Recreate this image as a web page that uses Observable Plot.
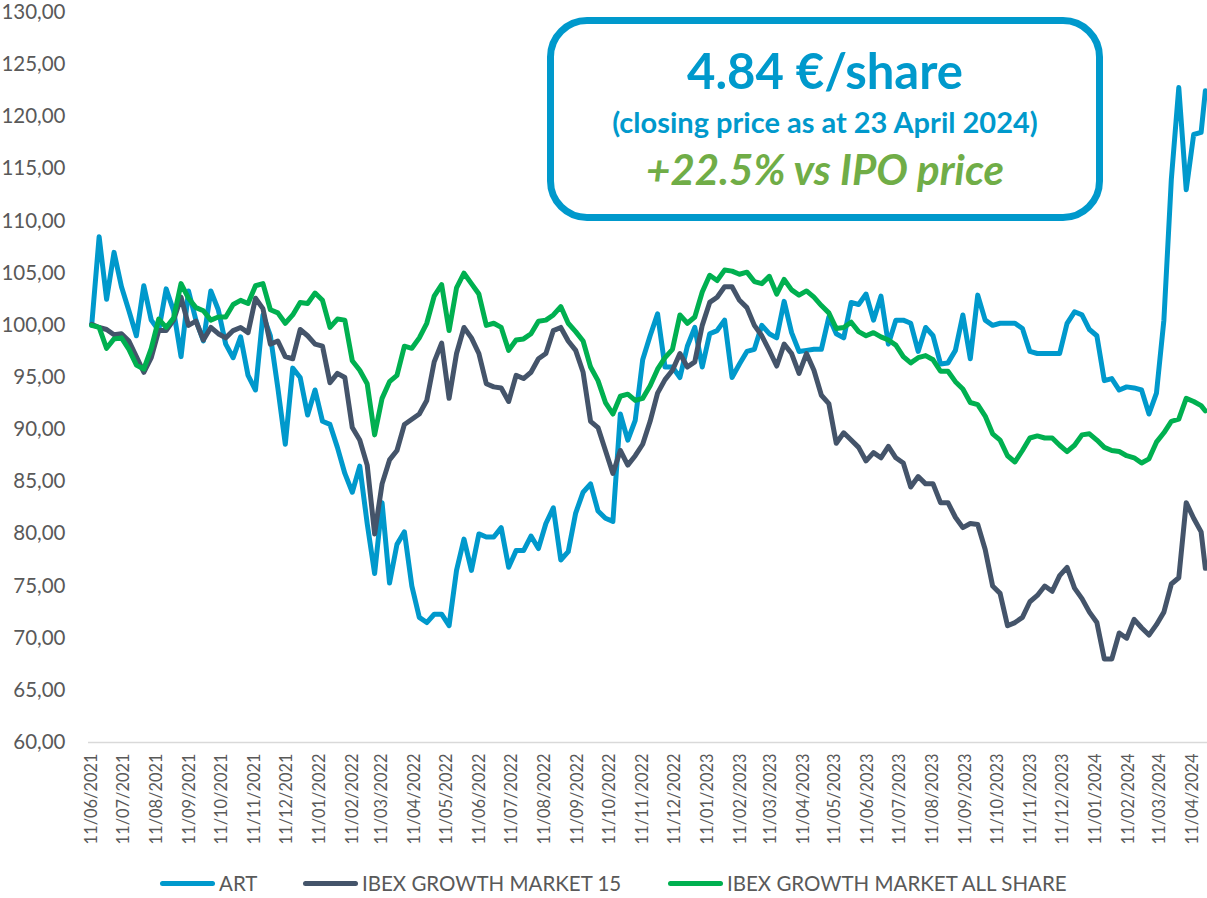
<!DOCTYPE html>
<html>
<head>
<meta charset="utf-8">
<script src="https://cdn.jsdelivr.net/npm/d3@7"></script>
<script src="https://cdn.jsdelivr.net/npm/@observablehq/plot@0.6"></script>
<style>
  html, body { margin: 0; padding: 0; background: #fff; }
  #wrap { position: relative; width: 1207px; height: 898px; font-family: Lato, "Open Sans", sans-serif; overflow: hidden; }
  #box { position: absolute; left: 547px; top: 17px; width: 556px; height: 204px; box-sizing: border-box;
         border: 7px solid #0099cc; border-radius: 40px; background: #fff; }
  .bt { position: absolute; left: 547px; width: 556px; text-align: center; font-weight: 700; white-space: nowrap; }
  #t1 { top: 46px; font-size: 49px; line-height: 49px; color: #0099cc; }
  #t2 { top: 107px; font-size: 29px; line-height: 29px; color: #0099cc; }
  #t3 { top: 148px; font-size: 42px; line-height: 42px; color: #70ad47; font-style: italic; }
  .lg { position: absolute; top: 868px; height: 30px; display: flex; align-items: center; font-size: 20.5px; color: #595959; white-space: nowrap; }
  .lg span.sw { display: inline-block; width: 55px; height: 5px; border-radius: 3px; margin-right: 4px; }
</style>
</head>
<body>
<div id="wrap">
  <div id="chart"></div>
  <div id="box"></div>
  <div class="bt" id="t1">4.84 €/share</div>
  <div class="bt" id="t2">(closing price as at 23 April 2024)</div>
  <div class="bt" id="t3">+22.5% vs IPO price</div>
  <div id="legend"></div>
</div>
<script>
// ---- data (weekly samples, starting 11/06/2021, last point 23/04/2024) ----
const seriesNames = ["ART", "IBEX GROWTH MARKET 15", "IBEX GROWTH MARKET ALL SHARE"];
const seriesColors = ["#0099cc", "#44546a", "#00b050"];
const firstDate = "2021-06-11";
const lastDate = "2024-04-23";

const artValues = [
  100.0, 108.5, 102.5, 107.0, 103.7, 101.4, 99.0, 103.8, 100.5, 99.5,
  103.5, 101.4, 97.0, 103.3, 100.5, 98.5, 103.3, 101.5, 98.2, 96.9,
  98.9, 95.2, 93.8, 101.0, 99.0, 94.0, 88.6, 95.9, 95.0, 91.4,
  93.8, 90.8, 90.5, 88.3, 85.8, 84.0, 86.5, 81.0, 76.2, 83.0,
  75.3, 79.0, 80.2, 75.0, 72.0, 71.5, 72.3, 72.3, 71.2, 76.5,
  79.5, 76.5, 80.0, 79.7, 79.7, 80.6, 76.8, 78.4, 78.4, 79.8,
  78.6, 81.0, 82.5, 77.5, 78.3, 82.0, 84.0, 84.8, 82.2, 81.5,
  81.2, 91.5, 89.0, 90.9, 96.7, 99.0, 101.1, 96.0, 96.0, 95.0,
  98.0, 99.8, 96.0, 99.2, 99.5, 100.5, 95.0, 96.3, 97.5, 97.7,
  100.0, 99.2, 98.8, 102.3, 99.3, 97.5, 97.6, 97.7, 97.7, 100.8,
  99.2, 98.8, 102.2, 102.0, 103.0, 100.5, 102.8, 98.2, 100.5, 100.5,
  100.2, 97.5, 99.8, 99.0, 96.3, 96.4, 97.6, 101.0, 96.8, 102.9,
  100.5, 100.0, 100.2, 100.2, 100.2, 99.7, 97.5, 97.3, 97.3, 97.3,
  97.3, 100.2, 101.3, 101.0, 99.6, 99.0, 94.7, 94.9, 93.8, 94.1,
  94.0, 93.8, 91.5, 93.5, 100.5, 114.0, 122.8, 113.0, 118.3, 118.5,
  122.5
];
const ibex15Values = [
  100.1, 99.8, 99.6, 99.1, 99.2, 98.5, 97.0, 95.5, 96.9, 99.5,
  99.5, 100.5, 102.7, 100.0, 100.4, 98.6, 99.8, 99.2, 98.8, 99.5,
  99.8, 99.3, 102.6, 101.6, 98.2, 98.5, 97.0, 96.8, 99.6, 99.0,
  98.2, 98.0, 94.5, 95.4, 95.0, 90.2, 89.0, 86.6, 80.0, 84.8,
  87.1, 88.0, 90.5, 91.0, 91.5, 92.8, 96.5, 98.3, 93.0, 97.3,
  99.8, 98.8, 97.3, 94.4, 94.1, 94.0, 92.7, 95.2, 94.9, 95.5,
  96.8, 97.3, 99.5, 99.8, 98.5, 97.6, 95.5, 90.8, 90.2, 88.0,
  85.8, 88.0, 86.6, 87.5, 88.6, 90.8, 93.5, 94.8, 95.7, 97.3,
  96.0, 96.5, 100.0, 102.2, 102.7, 103.7, 103.7, 102.4, 101.7, 100.0,
  99.0, 97.6, 96.1, 98.2, 97.3, 95.4, 97.3, 95.7, 93.3, 92.5,
  88.7, 89.7, 89.0, 88.3, 87.0, 87.8, 87.3, 88.4, 87.3, 86.8,
  84.5, 85.5, 84.8, 84.8, 83.0, 83.0, 81.6, 80.6, 81.0, 80.9,
  78.5, 75.0, 74.3, 71.2, 71.5, 72.0, 73.5, 74.1, 75.0, 74.5,
  76.0, 76.8, 74.8, 73.8, 72.5, 71.5, 68.0, 68.0, 70.5, 70.0,
  71.8, 71.0, 70.3, 71.3, 72.5, 75.2, 75.8, 83.0, 81.5, 80.2,
  76.7
];
const allShareValues = [
  100.0, 99.8, 97.8, 98.7, 98.8, 97.7, 96.2, 95.8, 97.8, 100.6,
  99.8, 100.7, 104.0, 102.6, 101.7, 101.4, 100.5, 100.8, 100.8, 102.0,
  102.4, 102.1, 103.8, 104.0, 101.5, 101.2, 100.2, 101.0, 102.2, 102.1,
  103.1, 102.4, 99.8, 100.6, 100.5, 96.6, 95.7, 94.4, 89.5, 93.0,
  94.6, 95.2, 98.0, 97.8, 98.8, 100.2, 102.8, 103.9, 99.5, 103.6,
  105.0, 104.0, 103.0, 100.0, 100.2, 99.8, 97.6, 98.6, 98.7, 99.2,
  100.4, 100.5, 101.0, 101.8, 100.2, 99.4, 98.5, 96.0, 94.7, 92.6,
  91.5, 93.2, 93.4, 92.8, 93.0, 94.2, 95.8, 96.9, 97.7, 101.0,
  100.2, 100.8, 103.2, 104.8, 104.3, 105.3, 105.2, 104.9, 105.1, 104.2,
  104.0, 104.7, 103.0, 104.4, 103.4, 102.9, 103.3, 102.7, 101.9, 101.2,
  99.7, 99.8, 100.3, 99.4, 99.0, 99.3, 98.9, 98.6, 98.1, 97.0,
  96.4, 96.9, 97.1, 96.7, 95.6, 95.6, 94.6, 93.9, 92.6, 92.4,
  91.3, 89.6, 89.0, 87.5, 86.9, 88.0, 89.2, 89.4, 89.2, 89.2,
  88.5, 87.9, 88.5, 89.5, 89.6, 89.0, 88.3, 88.0, 87.9, 87.5,
  87.3, 86.8, 87.2, 88.8, 89.7, 90.8, 91.0, 93.0, 92.7, 92.3,
  91.8
];
const yTicks = [60, 65, 70, 75, 80, 85, 90, 95, 100, 105, 110, 115, 120, 125, 130];
const xTickLabels = [
  "11/06/2021","11/07/2021","11/08/2021","11/09/2021","11/10/2021","11/11/2021","11/12/2021",
  "11/01/2022","11/02/2022","11/03/2022","11/04/2022","11/05/2022","11/06/2022","11/07/2022",
  "11/08/2022","11/09/2022","11/10/2022","11/11/2022","11/12/2022",
  "11/01/2023","11/02/2023","11/03/2023","11/04/2023","11/05/2023","11/06/2023","11/07/2023",
  "11/08/2023","11/09/2023","11/10/2023","11/11/2023","11/12/2023",
  "11/01/2024","11/02/2024","11/03/2024","11/04/2024"
];

// ---- build ----
const parseDMY = d3.utcParse("%d/%m/%Y");
const xTicks = xTickLabels.map(parseDMY);
const start = new Date(firstDate);
const sampleDates = artValues.map((_, i) =>
  i === artValues.length - 1 ? new Date(lastDate) : d3.utcDay.offset(start, 7 * i));

const allValues = [artValues, ibex15Values, allShareValues];
const lines = allValues.map((vals, s) =>
  Plot.line(vals.map((v, i) => ({date: sampleDates[i], value: v})), {
    x: "date", y: "value", stroke: seriesColors[s], strokeWidth: 5,
    strokeLinejoin: "round", strokeLinecap: "round"
  }));

const chart = Plot.plot({
  width: 1207,
  height: 860,
  marginLeft: 88,
  marginRight: 0,
  marginTop: 12,
  marginBottom: 118,
  style: {fontFamily: "Lato, 'Open Sans', sans-serif", background: "#fff", color: "#595959", overflow: "visible"},
  x: {type: "utc", domain: [new Date("2021-06-08"), new Date("2024-04-25")]},
  y: {domain: [60, 130]},
  marks: [
    Plot.ruleY([60], {stroke: "#d9d9d9", strokeWidth: 1.5}),
    Plot.axisY({ticks: yTicks, tickSize: 0, tickPadding: 23, label: null,
      tickFormat: d => d.toFixed(2).replace(".", ","), fontSize: 20.5, fill: "#595959"}),
    Plot.axisX({ticks: xTicks, tickSize: 0, tickPadding: 11, tickRotate: -90, label: null,
      tickFormat: d3.utcFormat("%d/%m/%Y"), fontSize: 16.4, fill: "#595959"}),
    ...lines
  ]
});
document.getElementById("chart").appendChild(chart);

// legend
const legendLeft = [160, 303, 668];
const legend = document.getElementById("legend");
seriesNames.forEach((name, i) => {
  const item = document.createElement("div");
  item.className = "lg";
  item.style.left = legendLeft[i] + "px";
  item.innerHTML = `<span class="sw" style="background:${seriesColors[i]}"></span><span>${name}</span>`;
  legend.appendChild(item);
});
</script>
</body>
</html>
